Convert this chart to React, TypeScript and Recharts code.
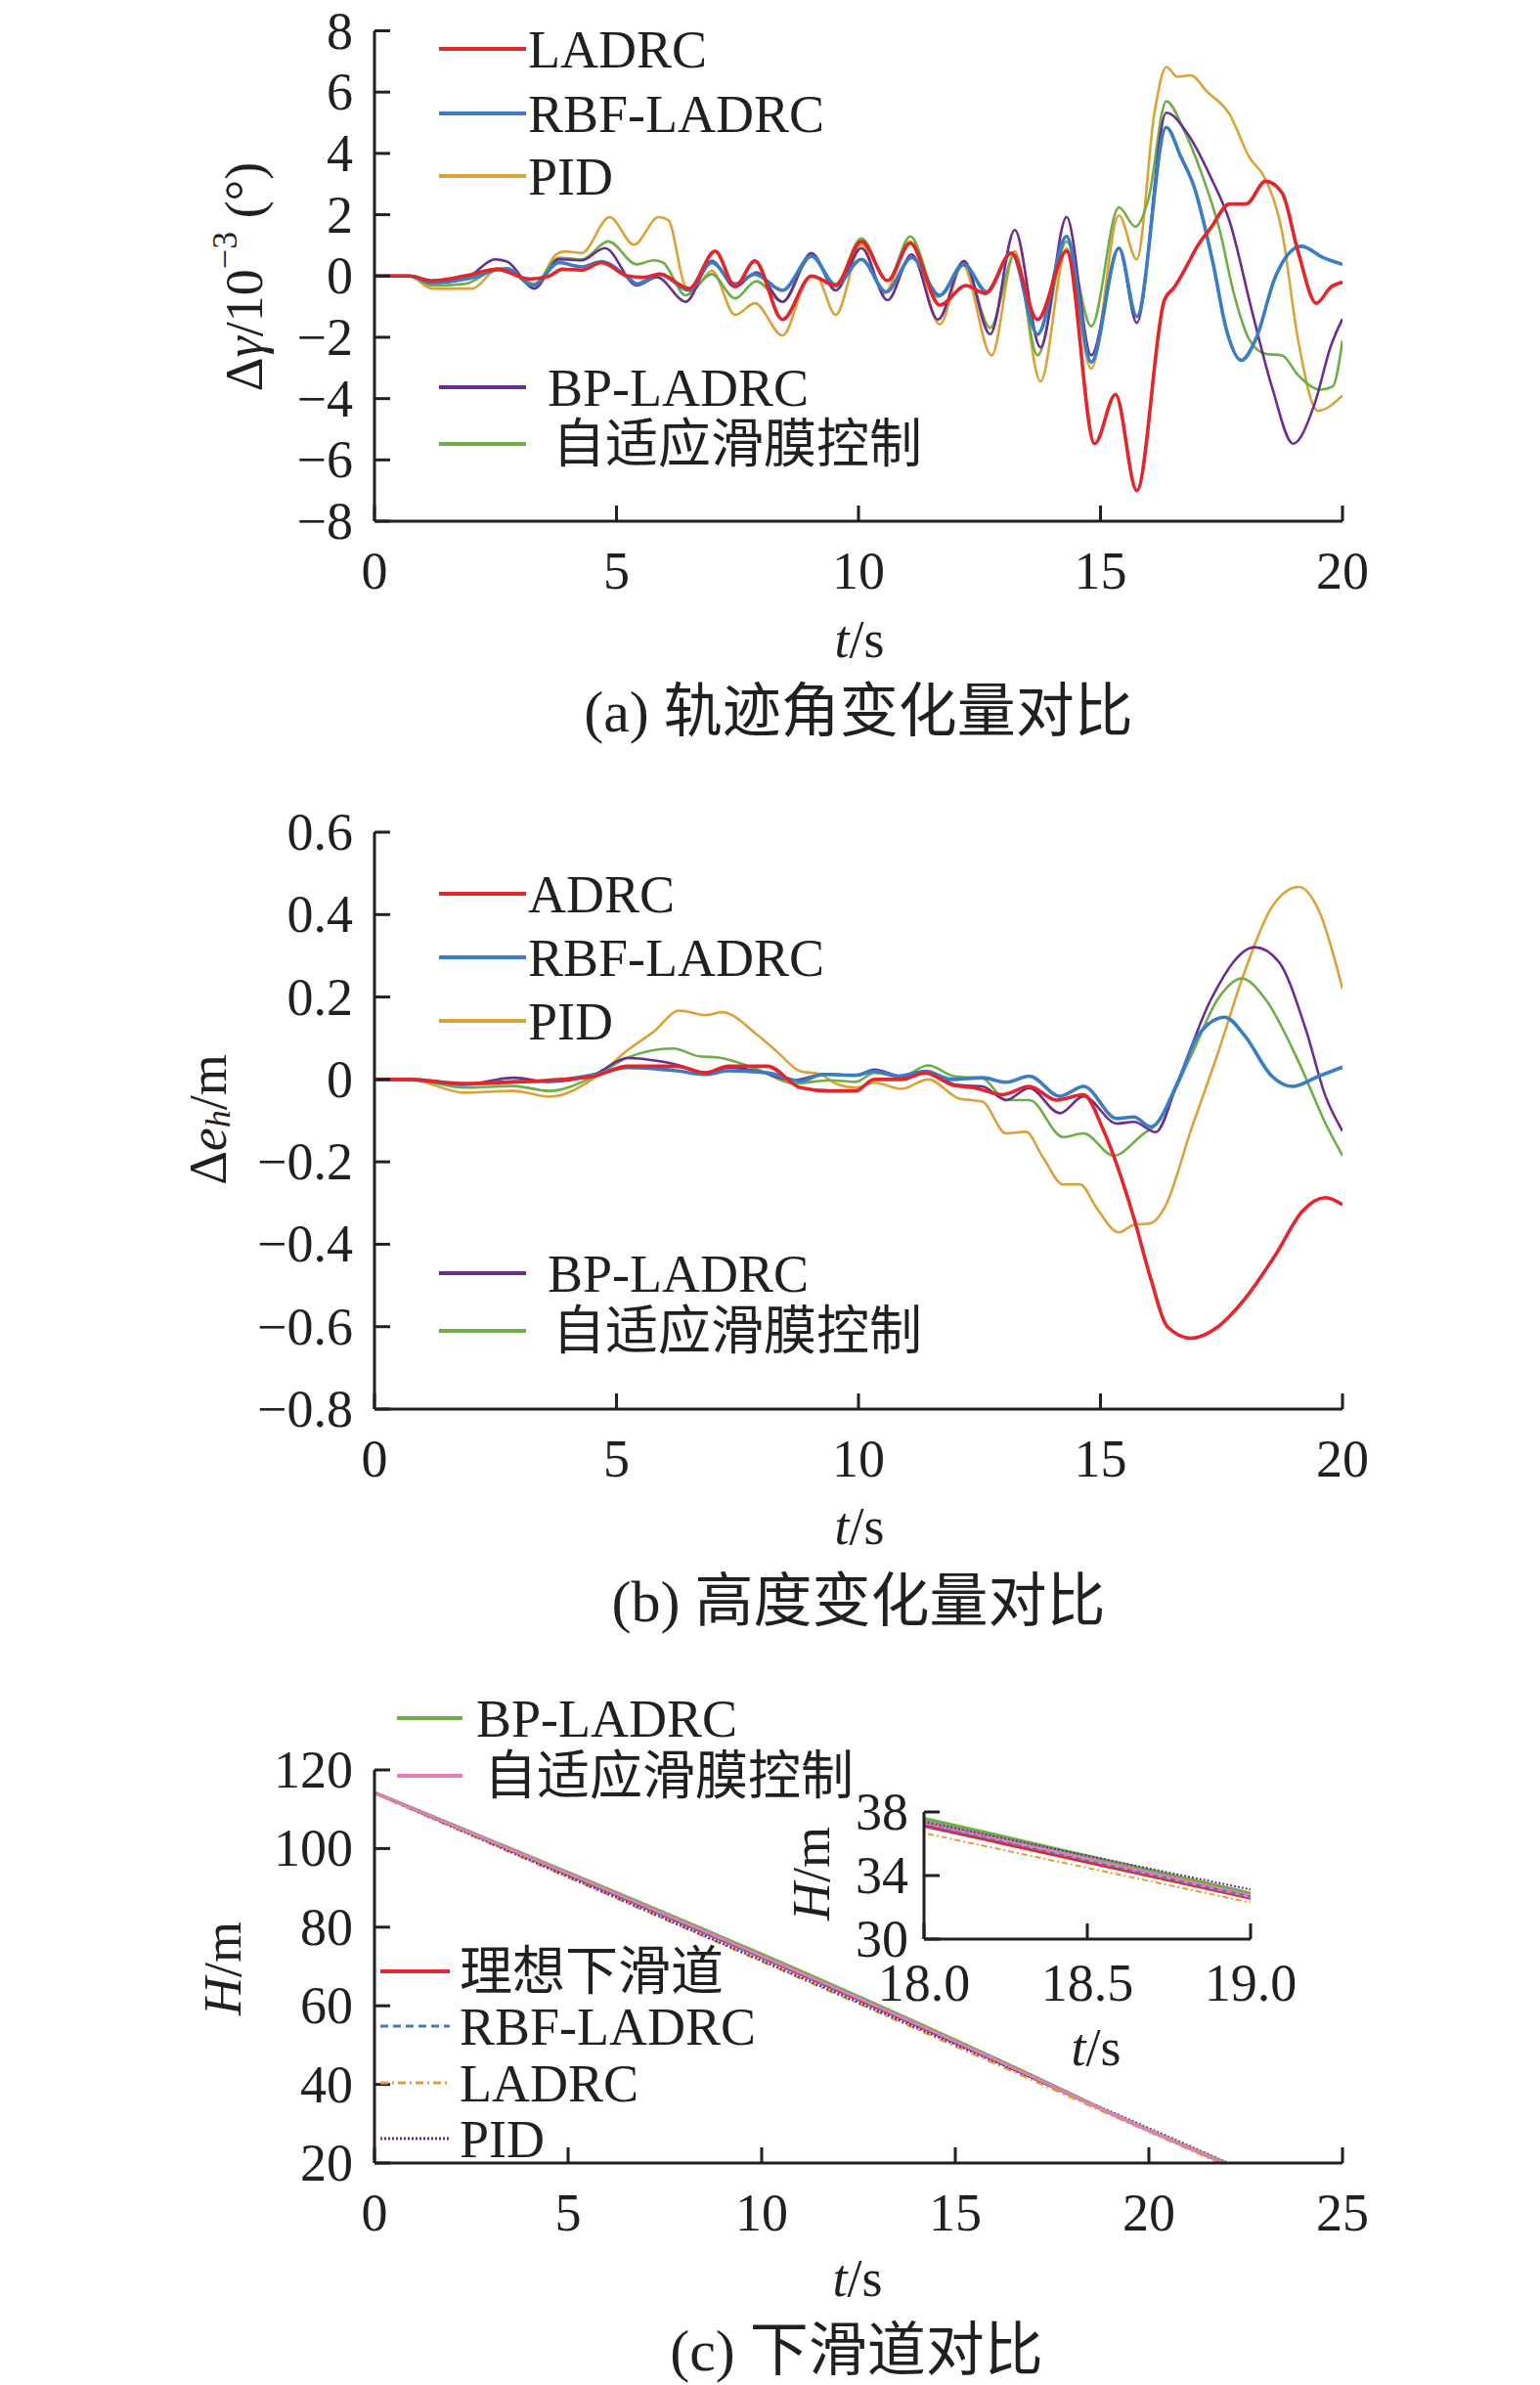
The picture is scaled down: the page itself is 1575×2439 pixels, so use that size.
import React from 'react';
import { LineChart, Line, XAxis, YAxis } from 'recharts';

// ---- (a) trajectory angle change, [t (s), value (1e-3 deg)] ----
const ladrcA = [[0,0],[0.72,0],[1.19,-0.15],[1.86,0],[2.53,0.22],[3.21,-0.1],[3.61,0],[3.88,0.22],[4.28,0.19],[4.69,0.44],[5.23,0],[5.56,-0.04],[5.9,0.06],[6.5,-0.41],[7.04,0.81],[7.45,-0.34],[7.86,0.49],[8.43,-1.42],[9.03,0],[9.53,-0.31],[10.06,1.13],[10.6,-0.15],[11.07,1.07],[11.68,-0.95],[12.22,-0.31],[12.62,-0.57],[13.16,0.75],[13.7,-1.42],[14.3,0.81],[14.88,-5.47],[15.31,-3.87],[15.75,-7.0],[16.32,-0.79],[16.53,-0.36],[16.8,0.38],[17.0,0.97],[17.27,1.55],[17.67,2.35],[18.01,2.35],[18.41,3.09],[18.75,2.72],[19.08,0.81],[19.46,-0.89],[19.76,-0.36],[20,-0.2]];
const rbfA = [[0,0],[0.72,0],[1.19,-0.2],[2.06,-0.04],[2.53,0.22],[2.74,0.24],[3.28,-0.31],[3.81,0.44],[4.28,0.3],[4.69,0.47],[5.23,-0.04],[5.42,-0.26],[5.9,0.06],[6.5,-0.47],[6.97,0.44],[7.45,-0.26],[7.86,0.06],[8.43,-0.47],[9.03,0.65],[9.53,-0.31],[10.06,0.54],[10.57,-0.52],[11.1,0.6],[11.68,-0.63],[12.18,0.38],[12.65,-0.52],[13.16,0.75],[13.7,-1.9],[14.3,1.29],[14.81,-2.81],[15.38,0.91],[15.75,-1.32],[16.36,4.85],[16.66,3.89],[16.93,2.93],[17.33,0.38],[17.6,-1.74],[17.91,-2.75],[18.21,-2.06],[18.61,-0.04],[19.15,0.97],[19.6,0.6],[20,0.38]];
const pidA = [[0,0],[0.72,0],[1.19,-0.41],[2.02,-0.41],[2.51,0.19],[2.74,0.22],[3.2,-0.25],[3.34,-0.25],[3.75,0.7],[3.94,0.8],[4.28,0.75],[4.86,1.92],[5.36,1.02],[5.87,1.92],[6.07,1.82],[6.43,-0.36],[6.57,-0.47],[6.97,0.17],[7.45,-1.27],[7.86,-0.89],[8.43,-1.94],[8.99,-0.04],[9.13,-0.04],[9.53,-1.27],[10.06,1.02],[10.53,-0.57],[11.07,1.13],[11.68,-1.58],[12.15,0.38],[12.75,-2.59],[13.23,0.81],[13.76,-3.44],[14.3,0.91],[14.81,-3.02],[15.38,1.98],[15.75,0.54],[16.12,5.38],[16.36,6.82],[16.59,6.5],[16.86,6.55],[17.2,6.02],[17.67,5.27],[18.07,3.89],[18.41,3.15],[18.75,1.45],[19.08,-2.06],[19.49,-4.4],[20,-3.9]];
const bpA = [[0,0],[0.72,0],[1.19,-0.23],[1.86,-0.1],[2.5,0.54],[2.74,0.47],[3.3,-0.41],[3.81,0.54],[4.28,0.51],[4.76,0.91],[5.42,-0.31],[5.84,-0.04],[6.43,-0.84],[6.97,0.49],[7.45,-0.36],[7.89,0.12],[8.43,-0.84],[9.03,0.75],[9.53,-0.47],[10.06,0.91],[10.6,-0.79],[11.1,0.7],[11.64,-1.42],[12.18,0.49],[12.72,-1.9],[13.23,1.5],[13.76,-2.33],[14.3,1.92],[14.81,-2.59],[15.38,0.91],[15.75,-1.53],[16.36,5.33],[16.8,4.64],[17.27,3.25],[17.67,1.77],[18.14,-1.21],[18.55,-3.66],[18.98,-5.47],[19.42,-4.19],[19.76,-2.28],[20,-1.4]];
const smcA = [[0,0],[0.72,0],[1.19,-0.31],[1.86,-0.26],[2.53,0.19],[2.74,0.17],[3.3,-0.26],[3.81,0.6],[4.28,0.54],[4.83,1.13],[5.42,0.38],[5.77,0.51],[5.96,0.44],[6.43,-0.63],[6.97,0.06],[7.45,-0.73],[7.89,-0.17],[8.43,-0.84],[9.03,0.65],[9.53,-0.26],[10.06,1.23],[10.6,-0.15],[11.07,1.29],[11.64,-0.68],[12.18,0.44],[12.72,-1.69],[13.23,0.7],[13.7,-2.59],[14.3,1.13],[14.81,-1.64],[15.38,2.24],[15.72,1.61],[15.99,2.51],[16.36,5.7],[16.73,4.74],[17.06,3.47],[17.47,1.45],[17.74,-0.47],[18.07,-2.06],[18.41,-2.54],[18.75,-2.59],[19.08,-3.23],[19.55,-3.71],[19.8,-3.6],[20,-2.1]];

// ---- (b) height change, [t (s), value (m)] ----
const adrcB = [[0,0],[0.71,0],[1.86,-0.01],[2.88,-0.006],[3.61,-0.002],[4.55,0.008],[5.23,0.032],[6.24,0.032],[6.84,0.016],[7.31,0.032],[8.12,0.032],[8.8,-0.02],[9.4,-0.028],[9.94,-0.028],[10.33,0],[10.89,0],[11.38,0.016],[11.93,-0.013],[12.42,-0.021],[12.98,-0.037],[13.53,-0.017],[14.09,-0.05],[14.65,-0.037],[15.06,-0.123],[15.69,-0.336],[16.04,-0.484],[16.38,-0.6],[16.87,-0.628],[17.43,-0.6],[17.98,-0.533],[18.61,-0.427],[19.17,-0.32],[19.65,-0.287],[20,-0.304]];
const rbfB = [[0,0],[0.71,0],[1.86,-0.012],[2.88,-0.006],[3.61,-0.004],[4.55,0.012],[5.23,0.029],[6.24,0.021],[6.84,0.012],[7.31,0.021],[8.12,0.016],[8.8,-0.004],[9.27,0.012],[9.94,0.01],[10.33,0.02],[10.82,0.008],[11.38,0.02],[11.93,0],[12.56,0.004],[13.05,-0.007],[13.53,0.008],[14.16,-0.041],[14.65,-0.017],[15.34,-0.095],[15.69,-0.091],[16.04,-0.115],[16.59,-0.009],[17.01,0.106],[17.57,0.151],[17.98,0.106],[18.54,0.008],[18.96,-0.017],[19.51,0.008],[20,0.03]];
const pidB = [[0,0],[0.71,0],[1.86,-0.032],[2.88,-0.028],[3.61,-0.042],[4.55,0.004],[5.23,0.071],[5.76,0.115],[6.3,0.167],[6.84,0.156],[7.18,0.163],[7.92,0.107],[8.32,0.067],[8.8,0.02],[9.2,0.013],[9.53,-0.01],[9.94,-0.02],[10.33,-0.008],[10.89,-0.023],[11.44,0],[12.07,-0.046],[12.56,-0.054],[13.05,-0.131],[13.46,-0.127],[13.81,-0.189],[14.23,-0.255],[14.58,-0.255],[14.92,-0.312],[15.38,-0.371],[15.69,-0.353],[16.04,-0.349],[16.32,-0.312],[16.87,-0.123],[17.43,0.065],[17.98,0.262],[18.54,0.418],[19.1,0.467],[19.51,0.41],[20,0.22]];
const bpB = [[0,0],[0.71,0],[1.86,-0.012],[2.88,0.004],[3.61,-0.006],[4.55,0.013],[5.23,0.052],[5.9,0.044],[6.24,0.036],[6.84,0.016],[7.31,0.029],[7.92,0.02],[8.66,-0.002],[9.33,0.013],[9.94,0.01],[10.33,0.024],[10.89,0.007],[11.44,0.02],[12.0,-0.013],[12.56,-0.017],[13.05,-0.05],[13.53,-0.021],[14.16,-0.082],[14.65,-0.041],[15.34,-0.107],[15.69,-0.103],[16.14,-0.128],[16.59,-0.008],[17.29,0.196],[18.19,0.321],[18.68,0.286],[19.24,0.122],[19.65,-0.041],[20,-0.125]];
const smcB = [[0,0],[0.71,0],[1.86,-0.02],[2.88,-0.016],[3.61,-0.028],[4.55,0.008],[5.23,0.053],[6.17,0.075],[6.71,0.056],[7.11,0.053],[7.92,0.024],[8.66,-0.01],[9.4,-0.002],[9.94,-0.006],[10.33,0.016],[10.89,0.007],[11.44,0.034],[12.0,0.007],[12.56,0.003],[13.05,-0.05],[13.53,-0.05],[14.23,-0.14],[14.65,-0.131],[15.27,-0.185],[15.9,-0.131],[16.1,-0.115],[16.87,0.057],[17.43,0.196],[17.92,0.245],[18.4,0.196],[19.1,0.041],[19.65,-0.107],[20,-0.185]];

// ---- (c) glide path, [t (s), H (m)] ----
const idealC = [[0,114.2],[18,37.18],[19,32.63],[21.93,20]];
const rbfC = [[0,114.2],[18,37.2],[19,32.67],[21.95,20]];
const ladrcC = [[0,114.0],[18,36.67],[19,32.3],[21.85,20]];
const pidC = [[0,114.2],[18,37.38],[19,33.12],[22.05,20]];
const bpC = [[0,114.3],[18,37.55],[19,32.83],[22.0,20]];
const smcC = [[0,114.2],[18,37.34],[19,32.7],[21.95,20]];

// ---- ticks ----
const xTicks20 = [0, 5, 10, 15, 20];
const yTicksA = [-8, -6, -4, -2, 0, 2, 4, 6, 8];
const yTicksB = [-0.8, -0.6, -0.4, -0.2, 0, 0.2, 0.4, 0.6];
const xTicksC = [0, 5, 10, 15, 20, 25];
const yTicksC = [20, 40, 60, 80, 100, 120];
const xTicksIn = [18, 18.5, 19];
const yTicksIn = [30, 34, 38];

const FONT = "'Liberation Serif', 'Times New Roman', 'Noto Sans CJK SC', serif";
const INK = '#231f20';
const RED = '#e3262b';
const BLUE = '#3b7dc4';
const ORANGE = '#dba23a';
const PURPLE = '#6b2e8f';
const GREEN = '#6fad46';
const PINK = '#e17db8';

const pts = (arr: number[][]) => arr.map(([t, v]) => ({ t, v }));

const fmt = (d: number) => (v: number) => {
  if (v === 0) return '0';
  const s = Math.abs(v).toFixed(d);
  return v < 0 ? '\u2212' + s : s;
};

const YTick = (props: any) => {
  const { x, y, payload, f, gap = 22, len = 16 } = props;
  return (
    <g>
      <line x1={x} x2={x + len} y1={y} y2={y} stroke={INK} strokeWidth={3} />
      <text x={x - gap} y={y + 18} textAnchor="end" fontSize={54} fontFamily={FONT} fill={INK}>
        {f(payload.value)}
      </text>
    </g>
  );
};

const XTick = (props: any) => {
  const { x, y, payload, f, gap = 69, len = 16 } = props;
  return (
    <g>
      <line x1={x} x2={x} y1={y} y2={y - len} stroke={INK} strokeWidth={3} />
      <text x={x} y={y + gap} textAnchor="middle" fontSize={54} fontFamily={FONT} fill={INK}>
        {f(payload.value)}
      </text>
    </g>
  );
};

const axisLine = { stroke: INK, strokeWidth: 3 };

function series(data: number[][], color: string, width: number, dash?: string) {
  return (
    <Line
      data={pts(data)}
      dataKey="v"
      type="monotone"
      stroke={color}
      strokeWidth={width}
      strokeDasharray={dash}
      dot={false}
      activeDot={false}
      isAnimationActive={false}
    />
  );
}

const T = ({ x, y, size = 54, anchor = 'start', children, ...rest }: any) => (
  <text x={x} y={y} fontSize={size} fontFamily={FONT} fill={INK} textAnchor={anchor} {...rest}>
    {children}
  </text>
);

const Leg = ({ x1, x2, y, color, w = 4, dash, tx, label }: any) => (
  <g>
    <line x1={x1} x2={x2} y1={y} y2={y} stroke={color} strokeWidth={w} strokeDasharray={dash} />
    <T x={tx} y={y + 19}>{label}</T>
  </g>
);

export default function App() {
  return (
    <div style={{ position: 'absolute', left: 0, top: 0, width: 1575, height: 2439, background: '#fff' }}>
      {/* (a) */}
      <div style={{ position: 'absolute', left: 0, top: 0 }}>
        <LineChart width={1575} height={640} margin={{ top: 31.5, right: 202, bottom: 47, left: 303 }}>
          <XAxis type="number" dataKey="t" domain={[0, 20]} ticks={xTicks20} interval={0} allowDataOverflow
            height={60} tickSize={0} tickMargin={0} axisLine={axisLine} tickLine={false} tick={<XTick f={fmt(0)} />} />
          <YAxis type="number" domain={[-8, 8]} ticks={yTicksA} interval={0} allowDataOverflow
            width={80} tickSize={0} tickMargin={0} axisLine={axisLine} tickLine={false} tick={<YTick f={fmt(0)} />} />
          {series(pidA, ORANGE, 2.6)}
          {series(smcA, GREEN, 2.6)}
          {series(bpA, PURPLE, 2.6)}
          {series(rbfA, BLUE, 3.6)}
          {series(ladrcA, RED, 3.6)}
        </LineChart>
      </div>

      {/* (b) */}
      <div style={{ position: 'absolute', left: 0, top: 800 }}>
        <LineChart width={1575} height={760} margin={{ top: 51, right: 202, bottom: 59, left: 303 }}>
          <XAxis type="number" dataKey="t" domain={[0, 20]} ticks={xTicks20} interval={0} allowDataOverflow
            height={60} tickSize={0} tickMargin={0} axisLine={axisLine} tickLine={false} tick={<XTick f={fmt(0)} />} />
          <YAxis type="number" domain={[-0.8, 0.6]} ticks={yTicksB} interval={0} allowDataOverflow
            width={80} tickSize={0} tickMargin={0} axisLine={axisLine} tickLine={false} tick={<YTick f={fmt(1)} />} />
          {series(pidB, ORANGE, 2.6)}
          {series(smcB, GREEN, 2.6)}
          {series(bpB, PURPLE, 2.6)}
          {series(rbfB, BLUE, 3.6)}
          {series(adrcB, RED, 3.6)}
        </LineChart>
      </div>

      {/* (c) */}
      <div style={{ position: 'absolute', left: 0, top: 1700 }}>
        <LineChart width={1575} height={640} margin={{ top: 110, right: 202, bottom: 68, left: 303 }}>
          <XAxis type="number" dataKey="t" domain={[0, 25]} ticks={xTicksC} interval={0} allowDataOverflow
            height={60} tickSize={0} tickMargin={0} axisLine={axisLine} tickLine={false} tick={<XTick f={fmt(0)} />} />
          <YAxis type="number" domain={[20, 120]} ticks={yTicksC} interval={0} allowDataOverflow
            width={80} tickSize={0} tickMargin={0} axisLine={axisLine} tickLine={false} tick={<YTick f={fmt(0)} />} />
          {series(idealC, RED, 3)}
          {series(rbfC, BLUE, 2.5, '8 5')}
          {series(ladrcC, ORANGE, 2.5, '8 4 2 4')}
          {series(pidC, PURPLE, 2.5, '2 2')}
          {series(bpC, GREEN, 3)}
          {series(smcC, PINK, 3)}
        </LineChart>
      </div>

      {/* (c) inset */}
      <div style={{ position: 'absolute', left: 845, top: 1820 }}>
        <LineChart width={500} height={260} margin={{ top: 33, right: 66, bottom: 37, left: 20 }}>
          <XAxis type="number" dataKey="t" domain={[18, 19]} ticks={xTicksIn} interval={0} allowDataOverflow
            height={60} tickSize={0} tickMargin={0} axisLine={axisLine} tickLine={false}
            tick={<XTick f={fmt(1)} gap={63} />} />
          <YAxis type="number" domain={[30, 38]} ticks={yTicksIn} interval={0} allowDataOverflow
            width={80} tickSize={0} tickMargin={0} axisLine={axisLine} tickLine={false}
            tick={<YTick f={fmt(0)} gap={16} />} />
          {series(bpC, GREEN, 5)}
          {series(idealC, RED, 5)}
          {series(smcC, PINK, 4)}
          {series(rbfC, BLUE, 2, '5 4')}
          {series(pidC, PURPLE, 2, '2 2')}
          {series(ladrcC, ORANGE, 2, '6 3 2 3')}
        </LineChart>
      </div>

      {/* text overlay: legends, axis titles, captions */}
      <svg width={1575} height={2439} style={{ position: 'absolute', left: 0, top: 0, pointerEvents: 'none' }}>
        {/* (a) */}
        <Leg x1={449} x2={538} y={50} color={RED} tx={540} label="LADRC" />
        <Leg x1={449} x2={538} y={116} color={BLUE} tx={540} label="RBF-LADRC" />
        <Leg x1={449} x2={538} y={180} color={ORANGE} tx={540} label="PID" />
        <Leg x1={449} x2={538} y={396} color={PURPLE} tx={560} label="BP-LADRC" />
        <Leg x1={449} x2={538} y={454} color={GREEN} tx={565} label="自适应滑膜控制" />
        <T x={250} y={283} anchor="middle" dominantBaseline="central" transform="rotate(-90 250 283)">
          Δ<tspan fontStyle="italic">γ</tspan>/10<tspan fontSize={36} dy={-20}>−3</tspan>
          <tspan dy={20}> (°)</tspan>
        </T>
        <T x={879} y={672} anchor="middle"><tspan fontStyle="italic">t</tspan>/s</T>
        <T x={878} y={748} size={60} anchor="middle">(a) 轨迹角变化量对比</T>

        {/* (b) */}
        <Leg x1={449} x2={538} y={914} color={RED} tx={540} label="ADRC" />
        <Leg x1={449} x2={538} y={979} color={BLUE} tx={540} label="RBF-LADRC" />
        <Leg x1={449} x2={538} y={1044} color={ORANGE} tx={540} label="PID" />
        <Leg x1={449} x2={538} y={1302} color={PURPLE} tx={560} label="BP-LADRC" />
        <Leg x1={449} x2={538} y={1361} color={GREEN} tx={565} label="自适应滑膜控制" />
        <T x={213} y={1145} anchor="middle" dominantBaseline="central" transform="rotate(-90 213 1145)">
          Δ<tspan fontStyle="italic">e</tspan><tspan fontStyle="italic" fontSize={36} dy={10}>h</tspan>
          <tspan dy={-10}>/m</tspan>
        </T>
        <T x={879} y={1579} anchor="middle"><tspan fontStyle="italic">t</tspan>/s</T>
        <T x={878} y={1658} size={60} anchor="middle">(b) 高度变化量对比</T>

        {/* (c) */}
        <Leg x1={406} x2={473} y={1757} color={GREEN} tx={487} label="BP-LADRC" />
        <Leg x1={406} x2={473} y={1816} color={PINK} tx={495} label="自适应滑膜控制" />
        <Leg x1={389} x2={460} y={2016} color={RED} tx={470} label="理想下滑道" />
        <Leg x1={389} x2={460} y={2072} color={BLUE} w={3} dash="8 5" tx={470} label="RBF-LADRC" />
        <Leg x1={389} x2={460} y={2130} color={ORANGE} w={3} dash="8 4 2 4" tx={470} label="LADRC" />
        <Leg x1={389} x2={460} y={2187} color={PURPLE} w={3} dash="2 2" tx={470} label="PID" />
        <T x={228} y={2013} anchor="middle" dominantBaseline="central" transform="rotate(-90 228 2013)">
          <tspan fontStyle="italic">H</tspan>/m
        </T>
        <T x={830} y={1916} anchor="middle" dominantBaseline="central" transform="rotate(-90 830 1916)">
          <tspan fontStyle="italic">H</tspan>/m
        </T>
        <T x={1121} y={2112} anchor="middle"><tspan fontStyle="italic">t</tspan>/s</T>
        <T x={877} y={2348} anchor="middle"><tspan fontStyle="italic">t</tspan>/s</T>
        <T x={876} y={2424} size={60} anchor="middle">(c) 下滑道对比</T>
      </svg>
    </div>
  );
}
